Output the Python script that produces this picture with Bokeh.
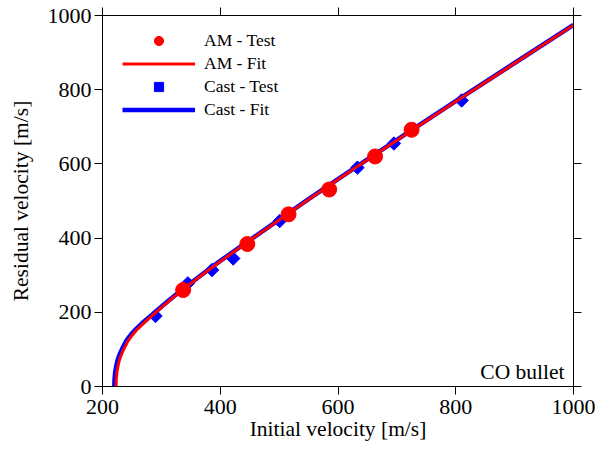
import numpy as np
from bokeh.plotting import figure
from bokeh.models import Range1d, LinearAxis, FixedTicker, Legend, LegendItem, Label
from bokeh.embed import file_html
from bokeh.resources import INLINE

# Test data
am_vi = [337, 446, 516, 585, 663, 725]
am_vr = [260, 384, 464, 531, 620, 692]
cast_vi = [290, 345, 386, 422, 501, 633, 695, 810]
cast_vr = [190, 278, 314, 345, 446, 590, 655, 771]

# Fit curves
am_fit_x = [223, 223.5, 224.5, 226.3, 228.5, 231, 234.5, 238.8, 243.5, 249, 254, 259, 270, 283,
            296, 314, 337, 370, 400, 446, 500, 550, 600, 650, 700, 725, 800, 900, 1000]
am_fit_y = [0, 20, 38, 55, 70, 82, 95, 109, 123, 135, 145, 154, 171, 189,
            207, 232, 262, 302, 337, 389, 449, 504, 558, 611, 664, 690, 768, 871, 974]
cast_fit_x = [220, 220.5, 221.5, 223.3, 225.5, 228, 231.5, 235.8, 240.5, 246, 251, 256.5, 267.5, 281,
              294, 312.5, 336, 369, 399.5, 446, 500, 550, 600, 650, 700, 725, 800, 900, 1000]
cast_fit_y = [0, 20, 38, 55, 70, 82, 95, 109, 123, 135, 145, 154, 171, 189,
              207, 232, 262, 302, 338, 390, 450, 505, 559, 612, 665, 691, 769, 872, 975]

x_ticks = [200, 400, 600, 800, 1000]
y_ticks = [0, 200, 400, 600, 800, 1000]

FONT = "Liberation Serif"

p = figure(width=598, height=456, output_backend="svg", toolbar_location=None,
           x_range=Range1d(200, 1000), y_range=Range1d(0, 1000),
           min_border_left=102, min_border_right=25, min_border_top=15, min_border_bottom=70)
p.outline_line_color = None
p.xgrid.visible = False
p.ygrid.visible = False
p.background_fill_color = "white"
p.border_fill_color = "white"

def style_axis(ax):
    ax.axis_line_color = "black"
    ax.axis_line_width = 1
    ax.major_tick_line_color = "black"
    ax.major_tick_out = 8
    ax.major_tick_in = 0
    ax.minor_tick_line_color = None
    ax.major_label_text_font = FONT
    ax.major_label_text_font_size = "22px"
    ax.major_label_text_color = "black"
    ax.axis_label_text_font = FONT
    ax.axis_label_text_font_size = "21.5px"
    ax.axis_label_text_font_style = "normal"
    ax.axis_label_text_color = "black"

p.xaxis.ticker = FixedTicker(ticks=x_ticks)
p.yaxis.ticker = FixedTicker(ticks=y_ticks)
style_axis(p.xaxis[0])
style_axis(p.yaxis[0])
p.xaxis.axis_label = "Initial velocity [m/s]"
p.yaxis.axis_label = "Residual velocity [m/s]"
p.xaxis.major_label_standoff = 5
p.yaxis.major_label_standoff = 3
p.xaxis.axis_label_standoff = 0
p.yaxis.axis_label_standoff = 12

top = LinearAxis(ticker=FixedTicker(ticks=x_ticks),
                 major_label_overrides={t: "" for t in x_ticks})
style_axis(top)
top.major_label_standoff = 0
p.add_layout(top, "above")
right = LinearAxis(ticker=FixedTicker(ticks=y_ticks),
                   major_label_overrides={t: "" for t in y_ticks})
style_axis(right)
right.major_label_standoff = 0
p.add_layout(right, "right")

r_cast_pts = p.scatter(cast_vi, cast_vr, marker="square", size=9.5, angle=np.pi / 4,
                       fill_color="blue", line_color="blue")
r_cast_fit = p.line(cast_fit_x, cast_fit_y, line_color="blue", line_width=4.5)
r_am_fit = p.line(am_fit_x, am_fit_y, line_color="red", line_width=3)
r_am_pts = p.scatter(am_vi, am_vr, marker="circle", size=15, fill_color="red", line_color="red")

legend = Legend(items=[
    LegendItem(label="AM - Test", renderers=[r_am_pts]),
    LegendItem(label="AM - Fit", renderers=[r_am_fit]),
    LegendItem(label="Cast - Test", renderers=[r_cast_pts]),
    LegendItem(label="Cast - Fit", renderers=[r_cast_fit]),
], location=(20, 265))
legend.border_line_color = None
legend.background_fill_alpha = 0
legend.padding = 0
legend.margin = 0
legend.spacing = 0
legend.glyph_width = 73
legend.glyph_height = 23
legend.label_height = 23
legend.label_standoff = 9
legend.label_text_font = FONT
legend.label_text_font_size = "17.5px"
legend.label_text_color = "black"
p.add_layout(legend, "center")

p.add_layout(Label(x=1000, y=0, x_offset=-9, y_offset=15, text="CO bullet",
                   text_align="right", text_baseline="alphabetic",
                   text_font=FONT, text_font_size="21.5px", text_color="black"))

open("out.html", "w").write(file_html(p, INLINE))
